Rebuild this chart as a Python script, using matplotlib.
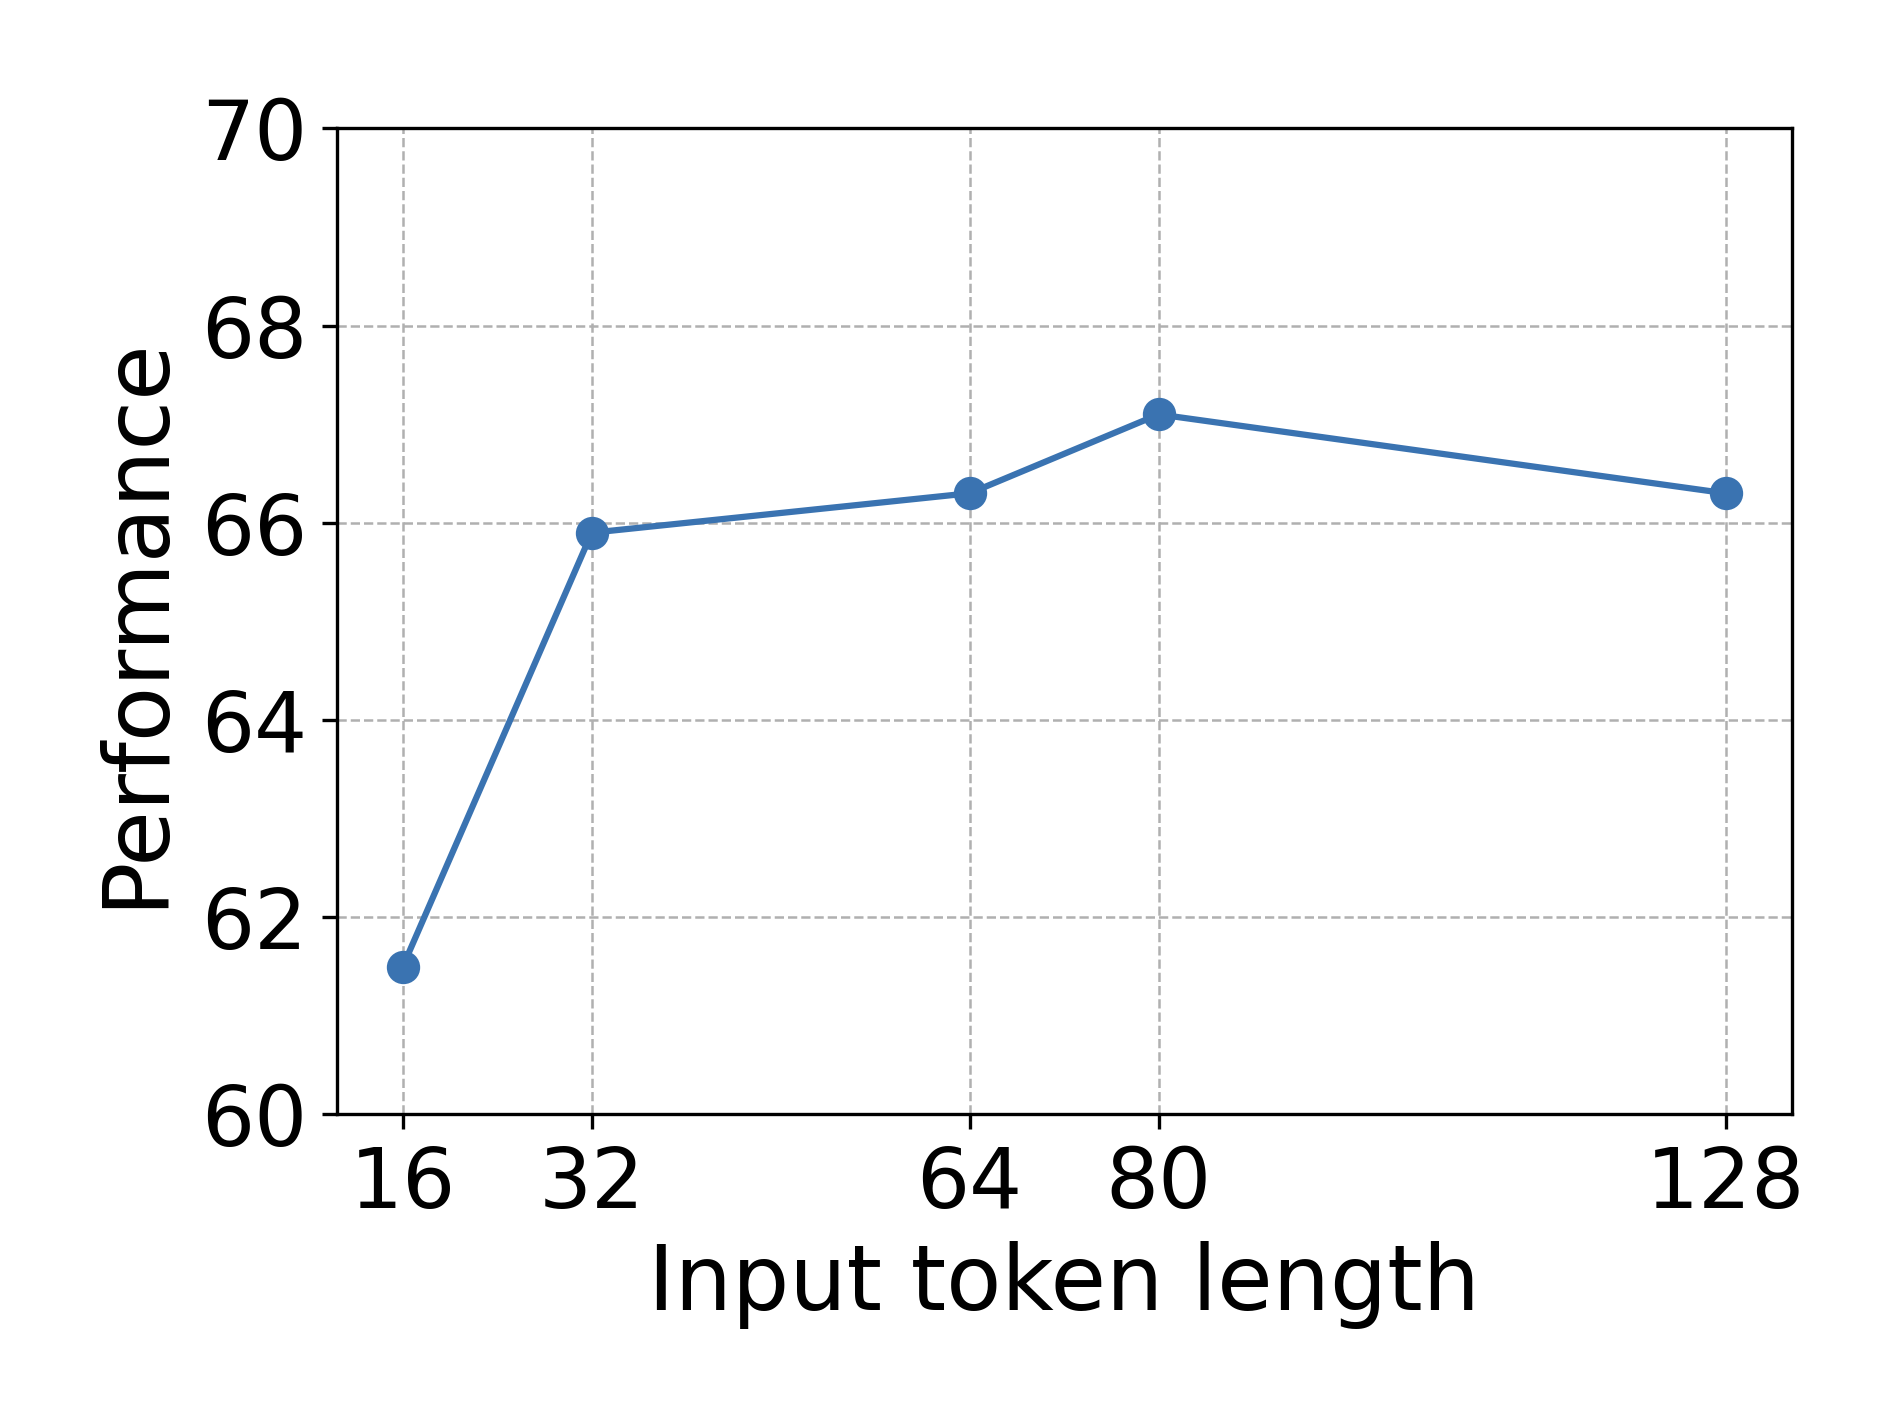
import matplotlib
matplotlib.use('Agg')
import matplotlib.pyplot as plt

# data
token_length = [16, 32, 64, 80, 128]
performance = [61.5, 65.9, 66.3, 67.1, 66.3]
y_ticks = [60, 62, 64, 66, 68, 70]

def plot_chart():
    fig = plt.figure(figsize=(1902 / 300, 1427 / 300), dpi=300)
    ax = fig.add_axes([0.177, 0.219, 0.765, 0.691])
    ax.plot(token_length, performance, marker='o', color='#3a73b1',
            linewidth=1.5, markersize=7)
    ax.set_xticks(token_length)
    ax.set_yticks(y_ticks)
    ax.set_ylim(60, 70)
    ax.tick_params(labelsize=20)
    ax.grid(True, linestyle='--', color='#b0b0b0', linewidth=0.6)
    ax.set_axisbelow(True)
    ax.set_xlabel('Input token length', fontsize=21.7, labelpad=4)
    ax.set_ylabel('Performance', fontsize=21.7, labelpad=5)
    fig.savefig('out.png', dpi=300)

if __name__ == '__main__':
    plot_chart()
